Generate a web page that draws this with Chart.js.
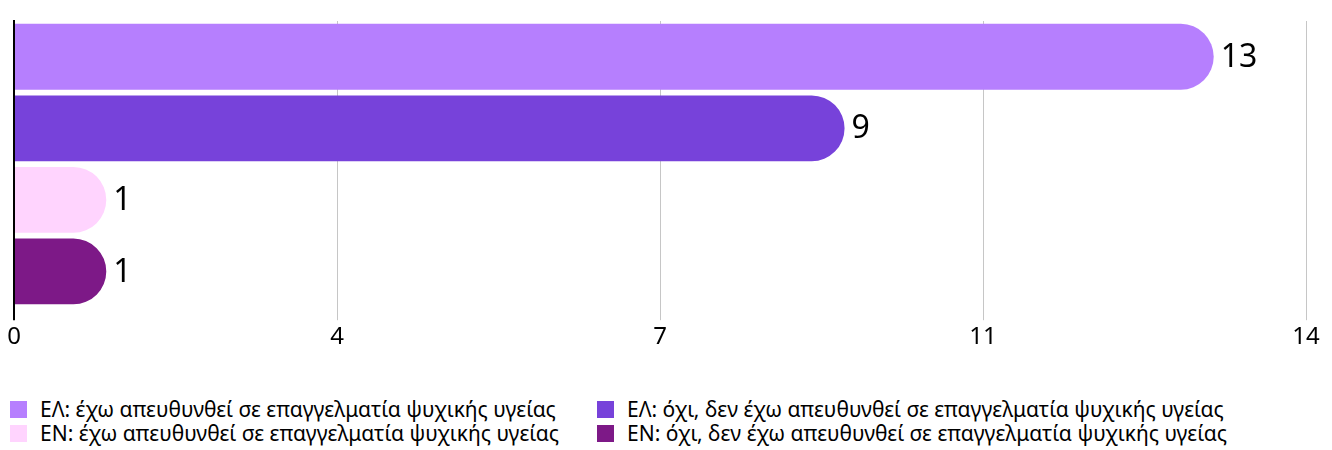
<!DOCTYPE html>
<html>
<head>
<meta charset="utf-8">
<script src="https://cdn.jsdelivr.net/npm/chart.js@4/dist/chart.umd.min.js"></script>
<style>
  html, body { margin: 0; padding: 0; background: #fff; }
  #wrap { width: 1332px; height: 450px; position: relative; }
  #chart-box { position: absolute; left: 0; top: 0; width: 1332px; height: 355px; }
  #legend {
    position: absolute; left: 10px; top: 397px;
    display: grid; grid-template-columns: 587px auto; row-gap: 0;
    font-family: "Noto Sans", sans-serif; font-size: 21px; color: #000;
  }
  .legend-item { display: flex; align-items: center; height: 24px; white-space: nowrap; }
  .legend-dot { width: 17px; height: 17px; margin-right: 13px; flex: none; }
</style>
</head>
<body>
<div id="wrap">
  <div id="chart-box"><canvas id="chart"></canvas></div>
  <div id="legend"></div>
</div>
<script>
// ── Dati ────────────────────────────────
const categories = [
  'ΕΛ: έχω απευθυνθεί σε επαγγελματία ψυχικής υγείας',
  'ΕΛ: όχι, δεν έχω απευθυνθεί σε επαγγελματία ψυχικής υγείας',
  'ΕΝ: έχω απευθυνθεί σε επαγγελματία ψυχικής υγείας',
  'ΕΝ: όχι, δεν έχω απευθυνθεί σε επαγγελματία ψυχικής υγείας'
];
const counts = [13, 9, 1, 1];
const tickLabels = ['0', '4', '7', '11', '14'];
const barColors = ['#b67ffe', '#7742da', '#ffd4fe', '#7d1987'];

const FONT = '"Noto Sans", sans-serif';

// Legenda HTML (2 colonne)
document.getElementById('legend').innerHTML = categories.map((c, i) => `
  <div class="legend-item"><span class="legend-dot" style="background:${barColors[i]}"></span>${c}</div>
`).join('');

// etichette valore a fine barra
const endLabels = {
  id: 'endLabels',
  afterDatasetsDraw(chart) {
    const { ctx } = chart;
    const meta = chart.getDatasetMeta(0);
    ctx.save();
    ctx.font = '32px ' + FONT;
    ctx.fillStyle = '#000';
    ctx.textBaseline = 'middle';
    ctx.textAlign = 'left';
    meta.data.forEach((bar, i) => {
      ctx.fillText(String(counts[i]), bar.x + 7, bar.y + 1);
    });
    ctx.restore();
  }
};

new Chart(document.getElementById('chart'), {
  type: 'bar',
  data: {
    labels: categories,
    datasets: [{
      data: counts,
      backgroundColor: barColors,
      borderRadius: 33,
      borderSkipped: 'start',
      categoryPercentage: 1,
      barPercentage: 0.92
    }]
  },
  plugins: [endLabels],
  options: {
    indexAxis: 'y',
    responsive: true,
    maintainAspectRatio: false,
    animation: false,
    layout: { padding: { top: 21, left: 14, right: 26, bottom: 0 } },
    plugins: {
      tooltip: { enabled: false },
      legend: { display: false }
    },
    scales: {
      x: {
        min: 0,
        max: 14,
        ticks: {
          stepSize: 3.5,
          color: '#000',
          font: { family: FONT, size: 24 },
          padding: 3,
          maxRotation: 0,
          callback: (v, i) => tickLabels[i]
        },
        grid: {
          color: ctx => ctx.index === 0 ? '#000' : '#c6c6c6',
          lineWidth: ctx => ctx.index === 0 ? 2 : 1,
          tickLength: 13
        },
        border: { display: false }
      },
      y: {
        ticks: { display: false },
        grid: { display: false },
        border: { display: true, color: '#000', width: 2 },
        afterFit: s => { s.width = 0; }
      }
    }
  }
});
</script>
</body>
</html>
